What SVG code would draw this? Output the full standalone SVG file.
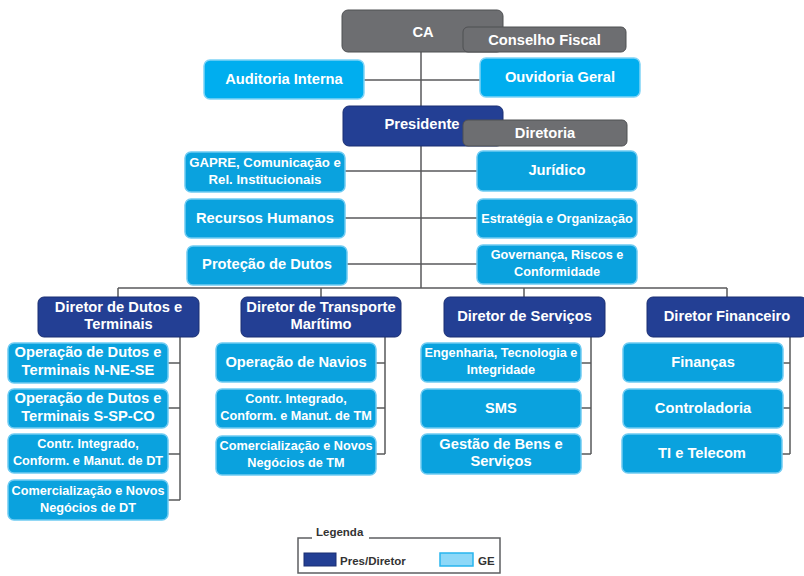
<svg xmlns="http://www.w3.org/2000/svg" width="804" height="576" viewBox="0 0 804 576">
<style>
rect.gr{fill:#6D6E71;stroke:#4F5053;stroke-width:1}
rect.db{fill:#233F94;stroke:#1B2F73;stroke-width:1}
rect.lt{fill:#00AEEF;stroke:#7FD3F6;stroke-width:1.5}
rect.lb{fill:#0AA2DE;stroke:#6FCBF2;stroke-width:1.5}
text{font-family:"Liberation Sans",Arial,sans-serif;font-weight:bold;fill:#FFFFFF;text-anchor:middle;font-size:14.7px}
text.s{font-size:13.2px}
text.xs{font-size:12.7px}
text.lg{fill:#333333;text-anchor:start;font-size:11.5px}
#connectors path{fill:none;stroke:#58595B;stroke-width:1.5}
</style>
<g id="connectors">
<path d="M421 52V288"/>
<path d="M364 80H480"/>
<path d="M345 171H477"/>
<path d="M345 218H477"/>
<path d="M347 264H477"/>
<path d="M118 288H727"/>
<path d="M118 288V297M321 288V297M524 288V297M727 288V297"/>
<path d="M180 337V500M168 363H180M168 408H180M168 454H180M168 500H180"/>
<path d="M385 337V454M375 363H385M375 408H385M375 454H385"/>
<path d="M591 337V454M580 363H591M580 408H591M580 454H591"/>
<path d="M790 337V454M783 363H790M783 408H790M782 454H790"/>
</g>
<g id="ca"><rect class="gr" x="342" y="10" width="161" height="42" rx="6"/><text x="423" y="37">CA</text></g>
<g id="conselho-fiscal"><rect class="gr" x="463" y="27" width="163" height="25" rx="5"/><text x="544.5" y="45">Conselho Fiscal</text></g>
<g id="auditoria"><rect class="lt" x="204" y="60" width="160" height="39" rx="6"/><text x="284" y="84">Auditoria Interna</text></g>
<g id="ouvidoria"><rect class="lt" x="480" y="58" width="160" height="39" rx="6"/><text x="560" y="82">Ouvidoria Geral</text></g>
<g id="presidente"><rect class="db" x="343" y="106" width="160" height="40" rx="6"/><text x="422" y="129">Presidente</text></g>
<g id="diretoria"><rect class="gr" x="463" y="120" width="164" height="26" rx="5"/><text x="545" y="138">Diretoria</text></g>
<g id="gapre"><rect class="lb" x="185" y="152" width="160" height="40" rx="6"/><text class="s" x="265" y="167">GAPRE, Comunicação e</text><text class="s" x="265" y="184">Rel. Institucionais</text></g>
<g id="juridico"><rect class="lb" x="477" y="151" width="160" height="40" rx="6"/><text x="557" y="175">Jurídico</text></g>
<g id="rh"><rect class="lb" x="185" y="199" width="160" height="39" rx="6"/><text x="265" y="223">Recursos Humanos</text></g>
<g id="estrategia"><rect class="lb" x="477" y="199" width="160" height="39" rx="6"/><text class="xs" x="557" y="223">Estratégia e Organização</text></g>
<g id="protecao"><rect class="lb" x="187" y="246" width="160" height="39" rx="6"/><text x="267" y="269">Proteção de Dutos</text></g>
<g id="governanca"><rect class="lb" x="477" y="245" width="160" height="39" rx="6"/><text class="xs" x="557" y="259">Governança, Riscos e</text><text class="xs" x="557" y="276">Conformidade</text></g>
<g id="dir-dutos"><rect class="db" x="38" y="297" width="161" height="40" rx="6"/><text x="118.5" y="312">Diretor de Dutos e</text><text x="118.5" y="329">Terminais</text></g>
<g id="dir-transporte"><rect class="db" x="241" y="297" width="160" height="40" rx="6"/><text x="321" y="312">Diretor de Transporte</text><text x="321" y="329">Marítimo</text></g>
<g id="dir-servicos"><rect class="db" x="444" y="297" width="161" height="40" rx="6"/><text x="524.5" y="321">Diretor de Serviços</text></g>
<g id="dir-financeiro"><rect class="db" x="647" y="297" width="160" height="40" rx="6"/><text x="727" y="321">Diretor Financeiro</text></g>
<g id="op-nne"><rect class="lb" x="8" y="343" width="160" height="40" rx="6"/><text x="88" y="357">Operação de Dutos e</text><text x="88" y="375">Terminais N-NE-SE</text></g>
<g id="op-ssp"><rect class="lb" x="8" y="389" width="160" height="39" rx="6"/><text x="88" y="403">Operação de Dutos e</text><text x="88" y="421">Terminais S-SP-CO</text></g>
<g id="contr-dt"><rect class="lb" x="8" y="434" width="160" height="39" rx="6"/><text class="xs" x="88" y="448">Contr. Integrado,</text><text class="xs" x="88" y="465">Conform. e Manut. de DT</text></g>
<g id="com-dt"><rect class="lb" x="8" y="480" width="160" height="40" rx="6"/><text class="xs" x="88" y="495">Comercialização e Novos</text><text class="xs" x="88" y="512">Negócios de DT</text></g>
<g id="op-navios"><rect class="lb" x="216" y="343" width="160" height="39" rx="6"/><text x="296" y="367">Operação de Navios</text></g>
<g id="contr-tm"><rect class="lb" x="216" y="389" width="160" height="39" rx="6"/><text class="xs" x="296" y="403">Contr. Integrado,</text><text class="xs" x="296" y="420">Conform. e Manut. de TM</text></g>
<g id="com-tm"><rect class="lb" x="216" y="436" width="160" height="39" rx="6"/><text class="xs" x="296" y="450">Comercialização e Novos</text><text class="xs" x="296" y="467">Negócios de TM</text></g>
<g id="engenharia"><rect class="lb" x="421" y="343" width="160" height="39" rx="6"/><text class="xs" x="501" y="357">Engenharia, Tecnologia e</text><text class="xs" x="501" y="374">Integridade</text></g>
<g id="sms"><rect class="lb" x="421" y="389" width="160" height="39" rx="6"/><text x="501" y="413">SMS</text></g>
<g id="gestao"><rect class="lb" x="421" y="434" width="160" height="40" rx="6"/><text x="501" y="449">Gestão de Bens e</text><text x="501" y="466">Serviços</text></g>
<g id="financas"><rect class="lb" x="623" y="343" width="160" height="39" rx="6"/><text x="703" y="367">Finanças</text></g>
<g id="controladoria"><rect class="lb" x="623" y="389" width="160" height="39" rx="6"/><text x="703" y="413">Controladoria</text></g>
<g id="ti"><rect class="lb" x="622" y="434" width="160" height="39" rx="6"/><text x="702" y="458">TI e Telecom</text></g>
<g id="legenda">
<path d="M312 538H298V573H500V538H369" fill="none" stroke="#5E5F62" stroke-width="1.5"/>
<text class="lg" x="316" y="536">Legenda</text>
<rect x="304" y="553" width="32" height="13" fill="#233F94" stroke="#1B2F73" stroke-width="1"/>
<text class="lg" x="340" y="565">Pres/Diretor</text>
<rect x="440" y="553" width="33" height="13" fill="#8DD8F8" stroke="#29B5EE" stroke-width="1.5"/>
<text class="lg" x="478" y="565">GE</text>
</g>
</svg>
